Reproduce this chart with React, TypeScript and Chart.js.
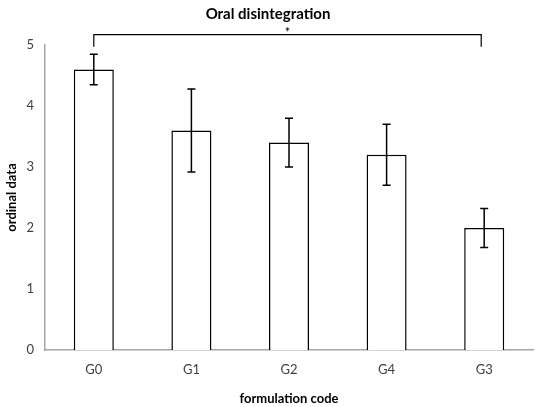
import React, { useEffect, useRef } from "react";
import { Chart, registerables } from "chart.js";

Chart.register(...registerables);

const categories = ["G0", "G1", "G2", "G4", "G3"];
const means = [4.6, 3.6, 3.4, 3.2, 2.0];
const errLow = [4.35, 2.92, 3.0, 2.7, 1.68];
const errHigh = [4.85, 4.28, 3.8, 3.7, 2.32];
const yTicks = [0, 1, 2, 3, 4, 5];
const titleText = "Oral disintegration";
const xTitle = "formulation code";
const yTitle = "ordinal data";
const sigLabel = "*";
const bracketFrom = 0;
const bracketTo = 4;
const bracketLevel = 5.17;

const FONT = "Lato, 'Open Sans', sans-serif";

export default function App() {
  const ref = useRef<HTMLCanvasElement>(null);
  useEffect(() => {
    const canvas = ref.current!;
    const overlay = {
      id: "overlay",
      afterDatasetsDraw(chart: any) {
        const ctx = chart.ctx;
        const x = chart.scales.x;
        const y = chart.scales.y;
        ctx.save();
        ctx.strokeStyle = "#000";
        ctx.lineWidth = 1.5;
        means.forEach((_, i) => {
          const cx = x.getPixelForValue(i);
          const yl = y.getPixelForValue(errLow[i]);
          const yh = y.getPixelForValue(errHigh[i]);
          ctx.beginPath();
          ctx.moveTo(cx, yl);
          ctx.lineTo(cx, yh);
          ctx.moveTo(cx - 4, yl);
          ctx.lineTo(cx + 4, yl);
          ctx.moveTo(cx - 4, yh);
          ctx.lineTo(cx + 4, yh);
          ctx.stroke();
        });
        const x1 = x.getPixelForValue(bracketFrom);
        const x2 = x.getPixelForValue(bracketTo) - 3;
        const by = y.getPixelForValue(bracketLevel);
        ctx.lineWidth = 1.2;
        ctx.beginPath();
        ctx.moveTo(x1, by + 12);
        ctx.lineTo(x1, by);
        ctx.lineTo(x2, by);
        ctx.lineTo(x2, by + 12);
        ctx.stroke();
        ctx.fillStyle = "#000";
        ctx.font = `13px ${FONT}`;
        ctx.textAlign = "center";
        ctx.textBaseline = "alphabetic";
        ctx.fillText(sigLabel, (x1 + x2) / 2, by + 2);
        ctx.font = `bold 15px ${FONT}`;
        ctx.textBaseline = "middle";
        ctx.fillText(titleText, 268, 14);
        ctx.restore();
      },
    };
    const chart = new Chart(canvas, {
      type: "bar",
      data: {
        labels: categories,
        datasets: [
          {
            data: means,
            backgroundColor: "#ffffff",
            borderColor: "#000000",
            borderWidth: 1.5,
            categoryPercentage: 1,
            barPercentage: 0.41,
          },
        ],
      },
      options: {
        responsive: false,
        animation: false,
        devicePixelRatio: 1,
        layout: { padding: { top: 45, right: 2, left: 0, bottom: 0 } },
        plugins: { legend: { display: false }, tooltip: { enabled: false }, title: { display: false } },
        scales: {
          x: {
            grid: { display: false },
            border: { display: true, color: "#a6a6a6", width: 1.5 },
            ticks: { color: "#404040", font: { size: 13, family: FONT }, padding: 4 },
            title: {
              display: true,
              text: xTitle,
              color: "#000",
              font: { size: 13, weight: "bold", family: FONT },
              padding: { top: 4, bottom: 0 },
            },
            afterFit(s: any) {
              s.height = 57;
            },
          },
          y: {
            min: 0,
            max: 5,
            afterBuildTicks(s: any) {
              s.ticks = yTicks.map((v) => ({ value: v }));
            },
            grid: { display: false },
            border: { display: true, color: "#a6a6a6", width: 1.5 },
            ticks: { color: "#404040", font: { size: 13, family: FONT }, padding: 3 },
            title: {
              display: true,
              text: yTitle,
              color: "#000",
              font: { size: 13, weight: "bold", family: FONT },
              padding: { top: 4, bottom: 0 },
            },
            afterFit(s: any) {
              s.width = 45;
            },
          },
        },
      },
      plugins: [overlay],
    });
    return () => chart.destroy();
  }, []);
  return (
    <div style={{ position: "absolute", left: 0, top: 0, width: 535, height: 407, background: "#fff" }}>
      <canvas ref={ref} width={535} height={407} />
    </div>
  );
}
